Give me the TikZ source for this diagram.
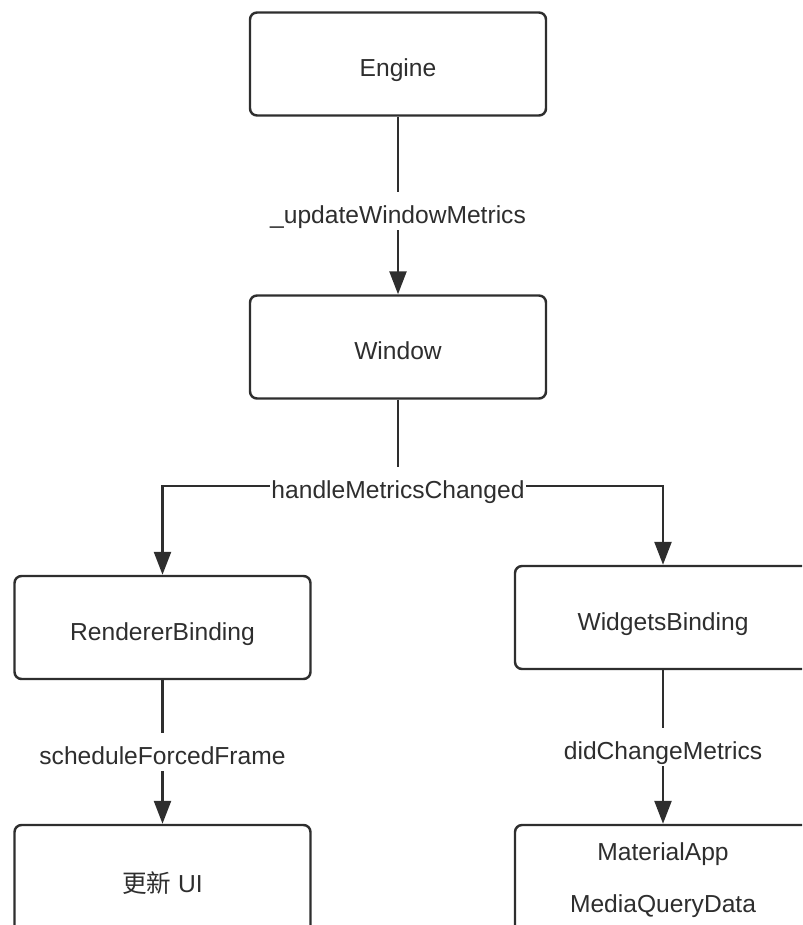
\documentclass[tikz,border=0pt]{standalone}
\usepackage{fontspec}
\setmainfont{Liberation Sans}
\newfontfamily\cjk{Noto Sans CJK SC}
\usetikzlibrary{arrows.meta, positioning}
\definecolor{ink}{HTML}{2E2E2E}

\begin{document}
\begin{tikzpicture}[
        module/.style={rectangle, rounded corners=4pt, draw=ink, line width=1.4pt, fill=white, minimum width=5.92cm, minimum height=2.06cm, align=center, text=ink, text height=0.6cm, text depth=0.1cm, font=\fontsize{14}{17}\selectfont},
        call/.style={-{Triangle[width=0.34cm, length=0.46cm]}, draw=ink, line width=1.4pt},
        tag/.style={fill=white, text=ink, inner sep=1pt, text height=0.6cm, text depth=0.1cm, font=\fontsize{14}{17}\selectfont}]

        \useasboundingbox (0,0) rectangle (16.04,-18.5);
        \clip (0,0) rectangle (16.04,-18.5);

        \node[module] (engine) at (7.96,-1.28) {Engine};
        \node[module] (window) at (7.96,-6.94) {Window};
        \node[module] (renderer) at (3.25,-12.55) {RendererBinding};
        \node[module] (widgets) at (13.26,-12.35) {WidgetsBinding};
        \node[module, minimum height=2.2cm] (refresh) at (3.25,-17.6) {{\cjk 更新} UI};
        \node[module, minimum height=2.2cm, text height=, text depth=] (material) at (13.26,-17.6) {MaterialApp\\[0.45cm]MediaQueryData};

        \draw[call] (engine) -- node[tag, pos=0.53] (uwm) {\_updateWindowMetrics} (window);

        % Verzweigung unter Window
        \coordinate (split) at (7.96,-9.72);
        \draw[ink, line width=1.4pt] (window) -- (split);
        \draw[call] (split) -| (renderer);
        \draw[call] (split) -| (widgets);
        \node[tag] (hmc) at (split) {handleMetricsChanged};

        \draw[call] (renderer) -- node[tag] (sff) {scheduleForcedFrame} (refresh);
        \draw[call] (widgets) -- node[tag] (dcm) {didChangeMetrics} (material);
    \end{tikzpicture}
\end{document}
